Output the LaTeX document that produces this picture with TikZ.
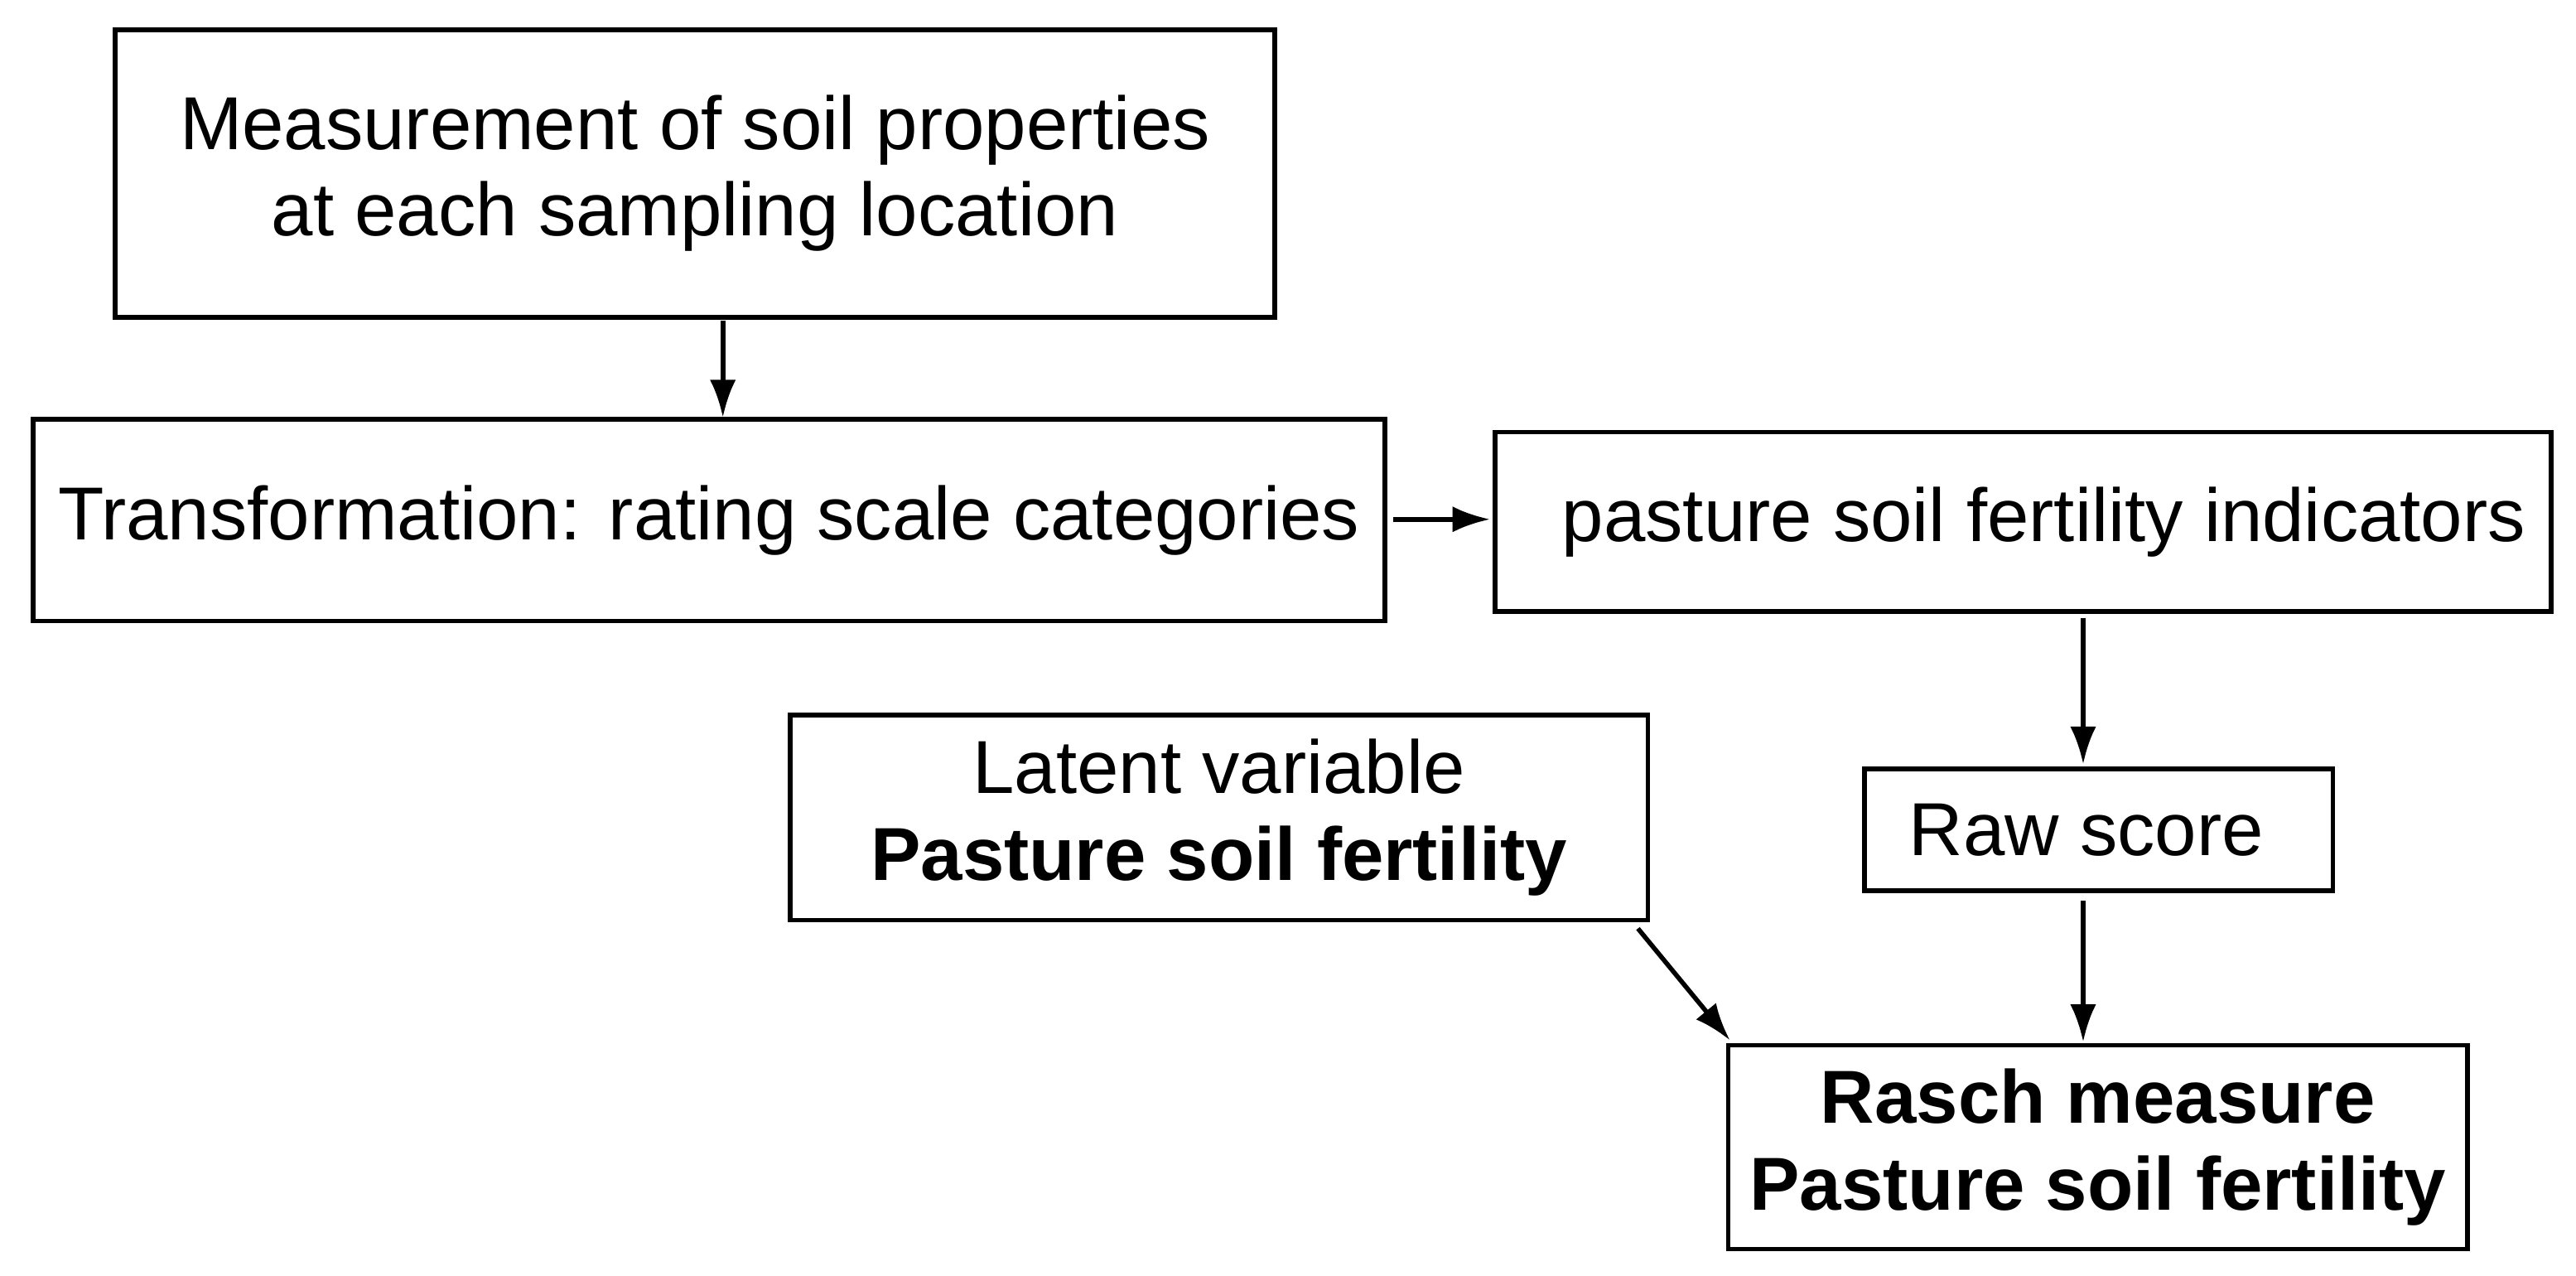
\documentclass[tikz,border=0pt]{standalone}
\usepackage{fontspec}
\setmainfont{Liberation Sans}
\usetikzlibrary{arrows.meta}
\begin{document}
\begin{tikzpicture}[x=0.02cm,y=-0.02cm,
  box/.style={draw,line width=1.6pt,inner sep=0pt,font=\fontsize{26}{30}\selectfont,align=center},
  arr/.style={-{Latex[length=13pt,width=9pt]},line width=1.6pt}]
\useasboundingbox (0,0) rectangle (1568,776);
\fill[white] (0,0) rectangle (1568,776);
\node[box,minimum width=14.12cm,minimum height=3.5cm] (a) at (423,105.5) {Measurement of soil properties\\at each sampling location};
\node[box,minimum width=16.46cm,minimum height=2.46cm] (b) at (431.5,316.5) {Transformation: rating scale categories};
\node[box,minimum width=12.86cm,minimum height=2.18cm] (c) at (1231.5,317.5) {\hspace{0.5cm}pasture soil fertility indicators};
\node[box,minimum width=10.44cm,minimum height=2.5cm] (d) at (742,497.5) {Latent variable\\\textbf{Pasture soil fertility}};
\node[box,minimum width=5.7cm,minimum height=1.48cm] (e) at (1277.5,505) {\hspace{-0.3cm}Raw score};
\node[box,minimum width=9cm,minimum height=2.48cm,font=\fontsize{26}{30}\selectfont\bfseries] (f) at (1277,698) {Rasch measure\\Pasture soil fertility};
\coordinate (a1) at (440,195); \coordinate (b1) at (440,254);
\coordinate (b2) at (848,316); \coordinate (c2) at (907,316);
\coordinate (c3) at (1268,376); \coordinate (e3) at (1268,465);
\coordinate (e4) at (1268,548); \coordinate (f4) at (1268,634);
\coordinate (d5) at (997,565); \coordinate (f5) at (1053,633);
\draw[arr] (a1) -- (b1);
\draw[arr] (b2) -- (c2);
\draw[arr] (c3) -- (e3);
\draw[arr] (e4) -- (f4);
\draw[arr] (d5) -- (f5);
\end{tikzpicture}
\end{document}
